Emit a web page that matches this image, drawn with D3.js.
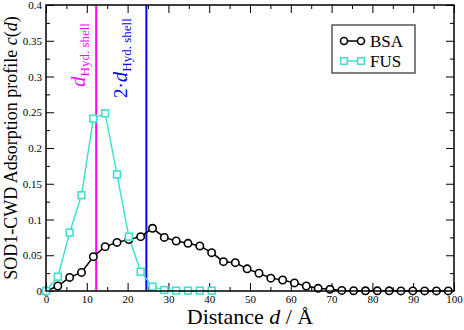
<!DOCTYPE html>
<html>
<head>
<meta charset="utf-8">
<script src="https://cdn.jsdelivr.net/npm/d3@7"></script>
<style>
  body { margin: 0; background: #fff; }
  svg { font-family: "Liberation Serif", "DejaVu Serif", serif; }
  text { white-space: pre; }
</style>
</head>
<body>
<div id="chart"></div>
<script>
const width = 464;
const height = 330;
const margin = { top: 5, right: 10, bottom: 39, left: 46 };

// bin spacing of the profile, in Angstrom
const binStep = 2.9;

const bsaValues = [0, 0.007, 0.019, 0.026, 0.048, 0.062, 0.068, 0.072, 0.076, 0.0877,
  0.075, 0.070, 0.0667, 0.063, 0.0536, 0.041, 0.0396, 0.031, 0.0248, 0.018,
  0.0154, 0.0113, 0.007, 0.0037, 0.0024, 0.0008, 0.0004, 0.0003, 0.0002, 0.0002,
  0.0001, 0.0001, 0.0001, 0.0001, 0.0001];
const fusValues = [0, 0.020, 0.0816, 0.134, 0.241, 0.2485, 0.163, 0.076, 0.027, 0.006,
  0.0014, 0.0005, 0.0005, 0.0005, 0.0005];

const xTicks = [0, 10, 20, 30, 40, 50, 60, 70, 80, 90, 100];
const xMinor = [5, 15, 25, 35, 45, 55, 65, 75, 85, 95];
const yTicks = [0, 0.05, 0.1, 0.15, 0.2, 0.25, 0.3, 0.35, 0.4];
const yMinor = [0.025, 0.075, 0.125, 0.175, 0.225, 0.275, 0.325, 0.375];

const dHyd = 12.3;
const seriesNames = ['BSA', 'FUS'];

const bsa = bsaValues.map((v, i) => [i * binStep, v]);
const fus = fusValues.map((v, i) => [i * binStep, v]);

const plotW = width - margin.left - margin.right;
const plotH = height - margin.top - margin.bottom;

const svg = d3.select('#chart')
  .append('svg')
  .attr('width', width)
  .attr('height', height);

const g = svg.append('g')
  .attr('transform', `translate(${margin.left},${margin.top})`);

const x = d3.scaleLinear().domain([0, 100]).range([0, plotW]);
const y = d3.scaleLinear().domain([0, 0.4]).range([plotH, 0]);

// axes, ticks pointing inwards like xmgrace
function styleAxis(sel) {
  sel.attr('font-family', null).attr('font-size', 11);
  sel.select('.domain').remove();
  sel.selectAll('line').attr('stroke', '#000').attr('stroke-width', 1);
  sel.selectAll('text').attr('fill', '#000')
    .style('font-family', 'Liberation Serif, serif');
}

g.append('g').attr('transform', `translate(0,${plotH})`)
  .call(d3.axisBottom(x).tickValues(xTicks).tickSizeInner(-8).tickPadding(4).tickFormat(d3.format('d')))
  .call(styleAxis);
g.append('g').attr('transform', `translate(0,${plotH})`)
  .call(d3.axisBottom(x).tickValues(xMinor).tickSizeInner(-4).tickFormat(''))
  .call(styleAxis);
g.append('g')
  .call(d3.axisTop(x).tickValues(xTicks).tickSizeInner(-8).tickFormat(''))
  .call(styleAxis);
g.append('g')
  .call(d3.axisTop(x).tickValues(xMinor).tickSizeInner(-4).tickFormat(''))
  .call(styleAxis);

g.append('g')
  .call(d3.axisLeft(y).tickValues(yTicks).tickSizeInner(-8).tickPadding(4).tickFormat(d => d === 0 ? '0' : String(+d.toFixed(3))))
  .call(styleAxis);
g.append('g')
  .call(d3.axisLeft(y).tickValues(yMinor).tickSizeInner(-4).tickFormat(''))
  .call(styleAxis);
g.append('g').attr('transform', `translate(${plotW},0)`)
  .call(d3.axisRight(y).tickValues(yTicks).tickSizeInner(-8).tickFormat(''))
  .call(styleAxis);
g.append('g').attr('transform', `translate(${plotW},0)`)
  .call(d3.axisRight(y).tickValues(yMinor).tickSizeInner(-4).tickFormat(''))
  .call(styleAxis);

// reference lines
const lines = [
  { d: dHyd, color: '#ff00ff' },
  { d: 2 * dHyd, color: '#0000ff' }
];
g.selectAll('.ref')
  .data(lines)
  .enter()
  .append('line')
  .attr('x1', d => x(d.d)).attr('x2', d => x(d.d))
  .attr('y1', 0).attr('y2', plotH)
  .attr('stroke', d => d.color)
  .attr('stroke-width', 2);

// labels on the reference lines
const lab1 = g.append('text')
  .attr('transform', `translate(${x(dHyd) - 11},82) rotate(-90)`)
  .attr('fill', '#ff00ff');
lab1.append('tspan').style('font-style', 'italic').style('font-size', '21px').text('d');
lab1.append('tspan').style('font-size', '13px').attr('dy', 4).text('Hyd. shell');

const lab2 = g.append('text')
  .attr('transform', `translate(${x(2 * dHyd) - 19},93) rotate(-90)`)
  .attr('fill', '#0000ff');
lab2.append('tspan').style('font-size', '19px').text('2·');
lab2.append('tspan').style('font-style', 'italic').style('font-size', '21px').text('d');
lab2.append('tspan').style('font-size', '13px').attr('dy', 4).text('Hyd. shell');

// series
const line = d3.line().x(d => x(d[0])).y(d => y(d[1]));

g.append('path').datum(bsa)
  .attr('fill', 'none').attr('stroke', '#000').attr('stroke-width', 1.5)
  .attr('d', line);
g.append('path').datum(fus)
  .attr('fill', 'none').attr('stroke', '#40e0d0').attr('stroke-width', 1.5)
  .attr('d', line);

g.selectAll('.bsa')
  .data(bsa)
  .enter()
  .append('circle')
  .attr('cx', d => x(d[0]))
  .attr('cy', d => y(d[1]))
  .attr('r', 3.7)
  .attr('fill', '#fff')
  .attr('stroke', '#000')
  .attr('stroke-width', 1.6);

g.selectAll('.fus')
  .data(fus)
  .enter()
  .append('rect')
  .attr('x', d => x(d[0]) - 3.4)
  .attr('y', d => y(d[1]) - 3.4)
  .attr('width', 6.8)
  .attr('height', 6.8)
  .attr('fill', '#fff')
  .attr('stroke', '#40e0d0')
  .attr('stroke-width', 1.6);

// frame
g.append('rect')
  .attr('width', plotW).attr('height', plotH)
  .attr('fill', 'none').attr('stroke', '#000').attr('stroke-width', 1.5);

// legend
const legend = svg.append('g').attr('transform', 'translate(332,25)');
legend.append('rect')
  .attr('width', 83).attr('height', 48)
  .attr('fill', '#fff').attr('stroke', '#555').attr('stroke-width', 1.5);
seriesNames.forEach((name, i) => {
  const ly = 16 + i * 20;
  const col = i === 0 ? '#000' : '#40e0d0';
  legend.append('line').attr('x1', 12).attr('x2', 29).attr('y1', ly).attr('y2', ly)
    .attr('stroke', col).attr('stroke-width', 1.5);
  [12, 29].forEach(px => {
    if (i === 0) {
      legend.append('circle').attr('cx', px).attr('cy', ly).attr('r', 3.5)
        .attr('fill', '#fff').attr('stroke', col).attr('stroke-width', 1.6);
    } else {
      legend.append('rect').attr('x', px - 3.3).attr('y', ly - 3.3).attr('width', 6.6).attr('height', 6.6)
        .attr('fill', '#fff').attr('stroke', col).attr('stroke-width', 1.6);
    }
  });
  legend.append('text').attr('x', 38).attr('y', ly + 6)
    .style('font-size', '17px').attr('fill', '#000').text(name);
});

// axis titles
const xt = svg.append('text')
  .attr('x', margin.left + plotW / 2)
  .attr('y', 324)
  .attr('text-anchor', 'middle')
  .style('font-size', '22px');
xt.append('tspan').text('Distance ');
xt.append('tspan').style('font-style', 'italic').text('d');
xt.append('tspan').text(' / Å');

const yt = svg.append('text')
  .attr('transform', `translate(17,${margin.top + plotH / 2}) rotate(-90)`)
  .attr('text-anchor', 'middle')
  .style('font-size', '18px');
yt.append('tspan').text('SOD1-CWD Adsorption profile ');
yt.append('tspan').style('font-style', 'italic').text('c');
yt.append('tspan').text('(');
yt.append('tspan').style('font-style', 'italic').text('d');
yt.append('tspan').text(')');
</script>
</body>
</html>
